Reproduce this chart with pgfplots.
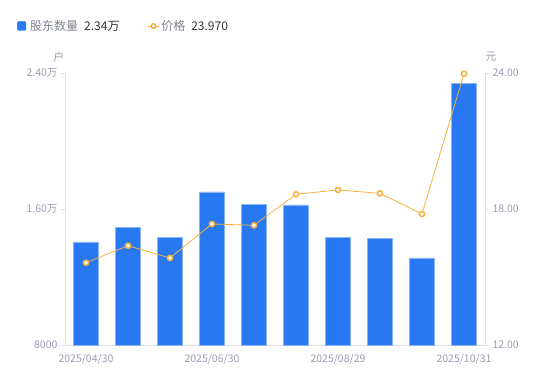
\documentclass[border=0pt]{standalone}
\usepackage{fontspec}
\setmainfont{Noto Sans CJK SC}
\usepackage{pgfplots}
\pgfplotsset{compat=1.18}
\definecolor{barblue}{HTML}{2878F2}
\definecolor{lineorg}{HTML}{F6B040}
\definecolor{tickgray}{HTML}{9A9CAE}
\definecolor{axisgray}{HTML}{E0E0E6}
\definecolor{legtxt}{HTML}{7F838F}
\definecolor{valtxt}{HTML}{333333}
\begin{document}
\begin{tikzpicture}
\pgfplotsset{
  common/.style={
    scale only axis, width=420pt, height=272pt,
    xmin=-0.5, xmax=9.5, clip=false,
    scaled y ticks=false,
    /pgf/number format/assume math mode=true,
    tick label style={font=\fontsize{10.5pt}{12pt}\selectfont, text=tickgray},
    axis line style={draw=axisgray, line width=0.8pt},
    tick style={draw=axisgray, line width=0.8pt},
    major tick length=4pt,
    tick align=outside,
  }
}
\begin{axis}[common,
  axis x line*=bottom, axis y line*=left,
  ymin=8000, ymax=24000,
  ytick={8000,16000,24000},
  yticklabels={8000,1.60万,2.40万},
  xtick={0,3,6,9},
  xticklabels={2025/04/30,2025/06/30,2025/08/29,2025/10/31},
  x tick style={draw=none},
  xticklabel style={yshift=-2pt},
  ybar, bar width=25pt,
]
\addplot[fill=barblue, draw=barblue!55!white, line width=0.6pt] coordinates {
 (0,14060) (1,14940) (2,14350) (3,17000) (4,16290)
 (5,16240) (6,14350) (7,14290) (8,13120) (9,23400)};
\node[text=tickgray, font=\fontsize{11pt}{12pt}\selectfont] at ([xshift=-6pt,yshift=16pt]rel axis cs:0,1) {户};
\end{axis}
\begin{axis}[common,
  axis y line*=right, axis x line=none,
  ymin=12, ymax=24,
  ytick={12,18,24},
  yticklabels={12.00,18.00,24.00},
  legend style={at={(axis description cs:0,1)}, anchor=west, xshift=-48pt, yshift=47pt,
    draw=none, fill=none, inner sep=0pt,
    font=\fontsize{12pt}{14pt}\selectfont, text=legtxt,
    /tikz/every even column/.append style={column sep=26pt}},
  legend columns=2, legend cell align=left,
]
\addlegendimage{legend image code/.code={\fill[barblue, rounded corners=1pt] (0pt,-4.3pt) rectangle (8.6pt,4.3pt);}}
\addlegendentry{\hspace{2pt}股东数量\hspace{6pt}{\color{valtxt}2.34万}}
\addplot[lineorg, line width=0.8pt, mark=*, mark size=2.6pt,
  mark options={fill=white, draw=lineorg, line width=1.5pt},
  legend image code/.code={\draw[lineorg, line width=0.8pt] (0pt,0pt)--(11pt,0pt);
     \draw[lineorg, fill=white, line width=1.5pt] (5.5pt,0pt) circle (2.3pt);}]
 coordinates {
 (0,15.63) (1,16.38) (2,15.84) (3,17.34) (4,17.28)
 (5,18.65) (6,18.84) (7,18.69) (8,17.78) (9,23.97)};
\addlegendentry{价格\hspace{6pt}{\color{valtxt}23.970}}
\node[text=tickgray, font=\fontsize{11pt}{12pt}\selectfont] at ([xshift=6pt,yshift=16pt]rel axis cs:1,1) {元};
\end{axis}
\pgfresetboundingbox
\path[use as bounding box] (-65pt,-36pt) rectangle (485pt,345pt);
\end{tikzpicture}
\end{document}
